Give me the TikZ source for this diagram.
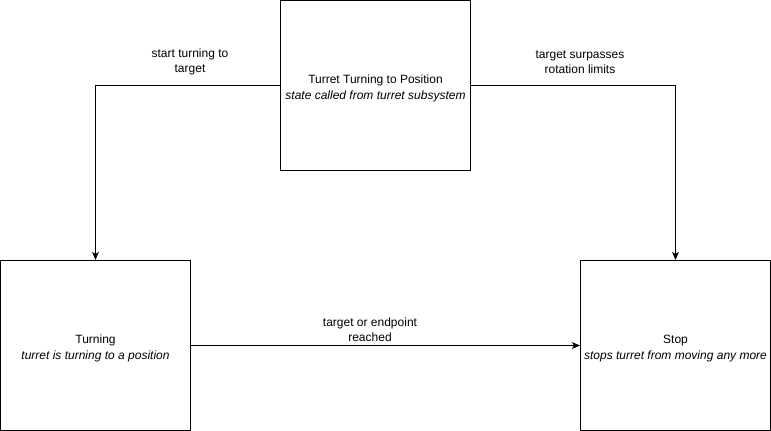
\documentclass[tikz,border=0pt]{standalone}
\usepackage{fontspec}
\setmainfont{Liberation Sans}
\usetikzlibrary{arrows.meta}
\newcommand{\tallstrut}{\rule{0pt}{11pt}}
\begin{document}
\begin{tikzpicture}[x=0.75pt,y=-0.75pt,
  statebox/.style={draw=black,line width=0.75pt,fill=white,minimum width=142.5pt,minimum height=127.5pt,inner sep=0pt,align=center,font=\fontsize{9}{11.5}\selectfont},
  conn/.style={draw=black,line width=0.75pt,-{Stealth[length=6pt,width=5pt,inset=1.5pt]}},
  lbl/.style={align=center,font=\fontsize{9}{11.5}\selectfont,inner sep=1pt}]
\useasboundingbox (0,0) rectangle (771,431);
\node[statebox] (top) at (375.5,85.5) {\tallstrut Turret Turning to Position\\\textit{state called from turret subsystem}};
\node[statebox] (turn) at (95.5,345.5) {\tallstrut Turning\\\textit{turret is turning to a position}};
\node[statebox] (stop) at (675.5,345.5) {\tallstrut Stop\\\textit{stops turret from moving any more}};
\draw[conn] (top.west) -| (turn.north);
\draw[conn] (top.east) -| (stop.north);
\draw[conn] (turn.east) -- (stop.west);
\node[lbl] (l1) at (190,62) {start turning to\\target};
\node[lbl] (l2) at (580,62) {target surpasses\\rotation limits};
\node[lbl] (l3) at (370,330) {target or endpoint\\reached};
\end{tikzpicture}
\end{document}
